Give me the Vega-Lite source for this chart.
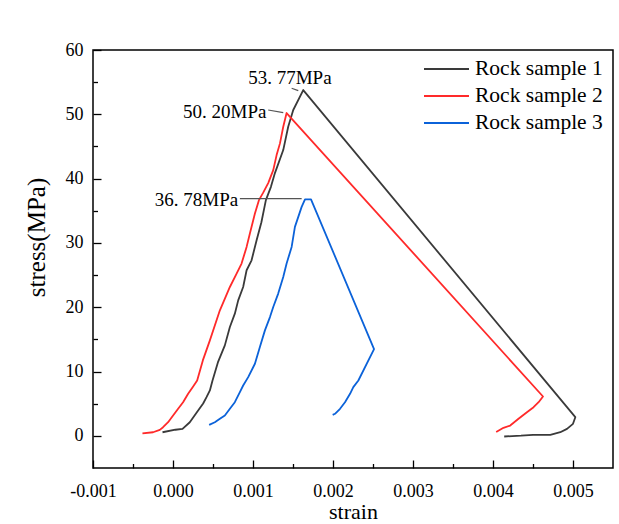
{
  "$schema": "https://vega.github.io/schema/vega-lite/v6.json",
  "width": 520,
  "height": 418,
  "autosize": "none",
  "padding": {"left": 93, "top": 50, "right": 6, "bottom": 56},
  "background": "#ffffff",
  "config": {
    "view": {"stroke": "#000000", "strokeWidth": 1.5},
    "font": "Liberation Serif"
  },
  "datasets": {
    "curves": [
      {"sample": "Rock sample 1", "i": 0, "strain": -0.000131, "stress": 0.56},
      {"sample": "Rock sample 1", "i": 1, "strain": 0.00003, "stress": 0.95},
      {"sample": "Rock sample 1", "i": 2, "strain": 0.000119, "stress": 1.09},
      {"sample": "Rock sample 1", "i": 3, "strain": 0.00021, "stress": 2.12},
      {"sample": "Rock sample 1", "i": 4, "strain": 0.000314, "stress": 3.94},
      {"sample": "Rock sample 1", "i": 5, "strain": 0.000377, "stress": 5.03},
      {"sample": "Rock sample 1", "i": 6, "strain": 0.000419, "stress": 6.01},
      {"sample": "Rock sample 1", "i": 7, "strain": 0.000461, "stress": 7.06},
      {"sample": "Rock sample 1", "i": 8, "strain": 0.000494, "stress": 8.61},
      {"sample": "Rock sample 1", "i": 9, "strain": 0.000561, "stress": 11.42},
      {"sample": "Rock sample 1", "i": 10, "strain": 0.000648, "stress": 14.07},
      {"sample": "Rock sample 1", "i": 11, "strain": 0.000711, "stress": 16.92},
      {"sample": "Rock sample 1", "i": 12, "strain": 0.000773, "stress": 19.0},
      {"sample": "Rock sample 1", "i": 13, "strain": 0.000815, "stress": 21.07},
      {"sample": "Rock sample 1", "i": 14, "strain": 0.000877, "stress": 23.15},
      {"sample": "Rock sample 1", "i": 15, "strain": 0.00092, "stress": 25.75},
      {"sample": "Rock sample 1", "i": 16, "strain": 0.000982, "stress": 27.3},
      {"sample": "Rock sample 1", "i": 17, "strain": 0.001045, "stress": 30.42},
      {"sample": "Rock sample 1", "i": 18, "strain": 0.001105, "stress": 33.22},
      {"sample": "Rock sample 1", "i": 19, "strain": 0.001161, "stress": 36.65},
      {"sample": "Rock sample 1", "i": 20, "strain": 0.001224, "stress": 38.72},
      {"sample": "Rock sample 1", "i": 21, "strain": 0.001274, "stress": 40.86},
      {"sample": "Rock sample 1", "i": 22, "strain": 0.001378, "stress": 44.44},
      {"sample": "Rock sample 1", "i": 23, "strain": 0.00144, "stress": 48.07},
      {"sample": "Rock sample 1", "i": 24, "strain": 0.001503, "stress": 50.67},
      {"sample": "Rock sample 1", "i": 25, "strain": 0.001628, "stress": 53.77},
      {"sample": "Rock sample 1", "i": 26, "strain": 0.005029, "stress": 2.9},
      {"sample": "Rock sample 1", "i": 27, "strain": 0.005, "stress": 1.87},
      {"sample": "Rock sample 1", "i": 28, "strain": 0.004925, "stress": 1.09},
      {"sample": "Rock sample 1", "i": 29, "strain": 0.004841, "stress": 0.56},
      {"sample": "Rock sample 1", "i": 30, "strain": 0.004716, "stress": 0.16},
      {"sample": "Rock sample 1", "i": 31, "strain": 0.0045, "stress": 0.15},
      {"sample": "Rock sample 1", "i": 32, "strain": 0.00435, "stress": 0.02},
      {"sample": "Rock sample 1", "i": 33, "strain": 0.00414, "stress": -0.1},
      {"sample": "Rock sample 2", "i": 0, "strain": -0.000382, "stress": 0.4},
      {"sample": "Rock sample 2", "i": 1, "strain": -0.000249, "stress": 0.56},
      {"sample": "Rock sample 2", "i": 2, "strain": -0.000165, "stress": 0.93},
      {"sample": "Rock sample 2", "i": 3, "strain": -0.000124, "stress": 1.34},
      {"sample": "Rock sample 2", "i": 4, "strain": -0.000061, "stress": 2.12},
      {"sample": "Rock sample 2", "i": 5, "strain": 0.000001, "stress": 3.16},
      {"sample": "Rock sample 2", "i": 6, "strain": 0.000064, "stress": 4.21},
      {"sample": "Rock sample 2", "i": 7, "strain": 0.000126, "stress": 5.23},
      {"sample": "Rock sample 2", "i": 8, "strain": 0.000189, "stress": 6.54},
      {"sample": "Rock sample 2", "i": 9, "strain": 0.000252, "stress": 7.68},
      {"sample": "Rock sample 2", "i": 10, "strain": 0.000302, "stress": 8.61},
      {"sample": "Rock sample 2", "i": 11, "strain": 0.000373, "stress": 11.73},
      {"sample": "Rock sample 2", "i": 12, "strain": 0.000461, "stress": 14.84},
      {"sample": "Rock sample 2", "i": 13, "strain": 0.000586, "stress": 19.52},
      {"sample": "Rock sample 2", "i": 14, "strain": 0.000711, "stress": 23.15},
      {"sample": "Rock sample 2", "i": 15, "strain": 0.000795, "stress": 25.23},
      {"sample": "Rock sample 2", "i": 16, "strain": 0.000857, "stress": 26.79},
      {"sample": "Rock sample 2", "i": 17, "strain": 0.00092, "stress": 29.38},
      {"sample": "Rock sample 2", "i": 18, "strain": 0.000961, "stress": 31.46},
      {"sample": "Rock sample 2", "i": 19, "strain": 0.001024, "stress": 34.58},
      {"sample": "Rock sample 2", "i": 20, "strain": 0.001074, "stress": 36.65},
      {"sample": "Rock sample 2", "i": 21, "strain": 0.001124, "stress": 37.74},
      {"sample": "Rock sample 2", "i": 22, "strain": 0.00119, "stress": 39.3},
      {"sample": "Rock sample 2", "i": 23, "strain": 0.001253, "stress": 41.32},
      {"sample": "Rock sample 2", "i": 24, "strain": 0.001295, "stress": 43.66},
      {"sample": "Rock sample 2", "i": 25, "strain": 0.001337, "stress": 45.48},
      {"sample": "Rock sample 2", "i": 26, "strain": 0.001378, "stress": 48.07},
      {"sample": "Rock sample 2", "i": 27, "strain": 0.00142, "stress": 50.2},
      {"sample": "Rock sample 2", "i": 28, "strain": 0.004625, "stress": 6.12},
      {"sample": "Rock sample 2", "i": 29, "strain": 0.00457, "stress": 5.23},
      {"sample": "Rock sample 2", "i": 30, "strain": 0.004507, "stress": 4.45},
      {"sample": "Rock sample 2", "i": 31, "strain": 0.004424, "stress": 3.68},
      {"sample": "Rock sample 2", "i": 32, "strain": 0.004319, "stress": 2.65},
      {"sample": "Rock sample 2", "i": 33, "strain": 0.004215, "stress": 1.6},
      {"sample": "Rock sample 2", "i": 34, "strain": 0.004131, "stress": 1.25},
      {"sample": "Rock sample 2", "i": 35, "strain": 0.00404, "stress": 0.6},
      {"sample": "Rock sample 3", "i": 0, "strain": 0.000452, "stress": 1.71},
      {"sample": "Rock sample 3", "i": 1, "strain": 0.000523, "stress": 2.12},
      {"sample": "Rock sample 3", "i": 2, "strain": 0.000586, "stress": 2.65},
      {"sample": "Rock sample 3", "i": 3, "strain": 0.000648, "stress": 3.16},
      {"sample": "Rock sample 3", "i": 4, "strain": 0.000711, "stress": 4.21},
      {"sample": "Rock sample 3", "i": 5, "strain": 0.000773, "stress": 5.23},
      {"sample": "Rock sample 3", "i": 6, "strain": 0.000836, "stress": 6.79},
      {"sample": "Rock sample 3", "i": 7, "strain": 0.000877, "stress": 7.83},
      {"sample": "Rock sample 3", "i": 8, "strain": 0.00094, "stress": 9.13},
      {"sample": "Rock sample 3", "i": 9, "strain": 0.001024, "stress": 11.21},
      {"sample": "Rock sample 3", "i": 10, "strain": 0.001086, "stress": 13.8},
      {"sample": "Rock sample 3", "i": 11, "strain": 0.001149, "stress": 16.4},
      {"sample": "Rock sample 3", "i": 12, "strain": 0.001212, "stress": 18.47},
      {"sample": "Rock sample 3", "i": 13, "strain": 0.001253, "stress": 20.03},
      {"sample": "Rock sample 3", "i": 14, "strain": 0.001315, "stress": 22.12},
      {"sample": "Rock sample 3", "i": 15, "strain": 0.001378, "stress": 24.7},
      {"sample": "Rock sample 3", "i": 16, "strain": 0.00142, "stress": 26.79},
      {"sample": "Rock sample 3", "i": 17, "strain": 0.001483, "stress": 29.38},
      {"sample": "Rock sample 3", "i": 18, "strain": 0.001524, "stress": 32.49},
      {"sample": "Rock sample 3", "i": 19, "strain": 0.001566, "stress": 34.05},
      {"sample": "Rock sample 3", "i": 20, "strain": 0.001608, "stress": 35.61},
      {"sample": "Rock sample 3", "i": 21, "strain": 0.00165, "stress": 36.78},
      {"sample": "Rock sample 3", "i": 22, "strain": 0.001725, "stress": 36.78},
      {"sample": "Rock sample 3", "i": 23, "strain": 0.002513, "stress": 13.5},
      {"sample": "Rock sample 3", "i": 24, "strain": 0.002317, "stress": 8.61},
      {"sample": "Rock sample 3", "i": 25, "strain": 0.002254, "stress": 7.57},
      {"sample": "Rock sample 3", "i": 26, "strain": 0.002213, "stress": 6.54},
      {"sample": "Rock sample 3", "i": 27, "strain": 0.00215, "stress": 5.23},
      {"sample": "Rock sample 3", "i": 28, "strain": 0.002088, "stress": 4.21},
      {"sample": "Rock sample 3", "i": 29, "strain": 0.002025, "stress": 3.43},
      {"sample": "Rock sample 3", "i": 30, "strain": 0.001996, "stress": 3.27}
    ],
    "labels": [
      {"x": 0.00094, "y": 55.65, "label": "53. 77MPa"},
      {"x": 0.000126, "y": 50.4, "label": "50. 20MPa"},
      {"x": -0.000228, "y": 36.65, "label": "36. 78MPa"}
    ],
    "leaders": [
      {"x": 0.001483, "y": 54.05, "x2": 0.001566, "y2": 53.68},
      {"x": 0.00119, "y": 50.67, "x2": 0.001378, "y2": 50.25},
      {"x": 0.000836, "y": 36.88, "x2": 0.001608, "y2": 36.88}
    ]
  },
  "layer": [
    {
      "data": {"name": "curves"},
      "mark": {"type": "line", "strokeWidth": 1.8, "strokeJoin": "round"},
      "encoding": {
        "x": {
          "field": "strain", "type": "quantitative",
          "scale": {"domain": [-0.001, 0.0055], "nice": false, "zero": false},
          "axis": {
            "orient": "bottom",
            "values": [-0.001, 0, 0.001, 0.002, 0.003, 0.004, 0.005],
            "labelExpr": "replace(format(datum.value, '.3f'), '\u2212', '-')",
            "tickSize": -8, "tickWidth": 1.3, "tickColor": "#000000",
            "labelPadding": 22, "labelFontSize": 18, "labelColor": "#000000",
            "labelFont": "Liberation Serif", "labelFlush": false,
            "domain": false, "grid": false,
            "title": "strain", "titleFont": "Liberation Serif", "titleFontSize": 22,
            "titleFontWeight": "normal", "titleColor": "#000000",
            "titleY": 50, "titleBaseline": "alphabetic"
          }
        },
        "y": {
          "field": "stress", "type": "quantitative",
          "scale": {"domain": [-5, 60], "nice": false, "zero": false},
          "axis": {
            "orient": "left",
            "values": [0, 10, 20, 30, 40, 50, 60],
            "tickSize": -8, "tickWidth": 1.3, "tickColor": "#000000",
            "labelPadding": 18, "labelFontSize": 18, "labelColor": "#000000",
            "labelFont": "Liberation Serif", "labelFlush": false,
            "domain": false, "grid": false,
            "title": "stress(MPa)", "titleFont": "Liberation Serif", "titleFontSize": 25,
            "titleFontWeight": "normal", "titleColor": "#000000",
            "titleX": -57, "titleY": 187, "titleAngle": 270,
            "titleBaseline": "middle", "titleAlign": "center"
          }
        },
        "color": {
          "field": "sample", "type": "nominal",
          "scale": {
            "domain": ["Rock sample 1", "Rock sample 2", "Rock sample 3"],
            "range": ["#3a3a3a", "#ff2a2a", "#0b62d9"]
          },
          "legend": {
            "orient": "none", "legendX": 330, "legendY": 8.5,
            "title": null, "symbolType": "stroke", "symbolSize": 2025,
            "symbolStrokeWidth": 2, "clipHeight": 21, "rowPadding": 5,
            "labelFont": "Liberation Serif", "labelFontSize": 21.5,
            "labelOffset": 5, "padding": 0, "labelLimit": 300,
            "labelColor": "#000000"
          }
        },
        "order": {"field": "i", "type": "quantitative"}
      }
    },
    {
      "data": {"name": "labels"},
      "mark": {"type": "text", "align": "left", "baseline": "middle", "font": "Liberation Serif", "fontSize": 19, "color": "#000000"},
      "encoding": {
        "x": {
          "field": "x", "type": "quantitative",
          "axis": {
            "orient": "bottom",
            "values": [-0.0005, 0.0005, 0.0015, 0.0025, 0.0035, 0.0045],
            "labels": false, "domain": false, "grid": false, "title": null,
            "tickSize": -4.5, "tickWidth": 1.3, "tickColor": "#000000"
          }
        },
        "y": {
          "field": "y", "type": "quantitative",
          "axis": {
            "orient": "left",
            "values": [5, 15, 25, 35, 45, 55],
            "labels": false, "domain": false, "grid": false, "title": null,
            "tickSize": -4.5, "tickWidth": 1.3, "tickColor": "#000000"
          }
        },
        "text": {"field": "label", "type": "nominal"}
      }
    },
    {
      "data": {"name": "leaders"},
      "mark": {"type": "rule", "stroke": "#555555", "strokeWidth": 1.2},
      "encoding": {
        "x": {"field": "x", "type": "quantitative", "axis": null},
        "y": {"field": "y", "type": "quantitative", "axis": null},
        "x2": {"field": "x2"},
        "y2": {"field": "y2"}
      }
    }
  ],
  "resolve": {"axis": {"x": "independent", "y": "independent"}}
}
